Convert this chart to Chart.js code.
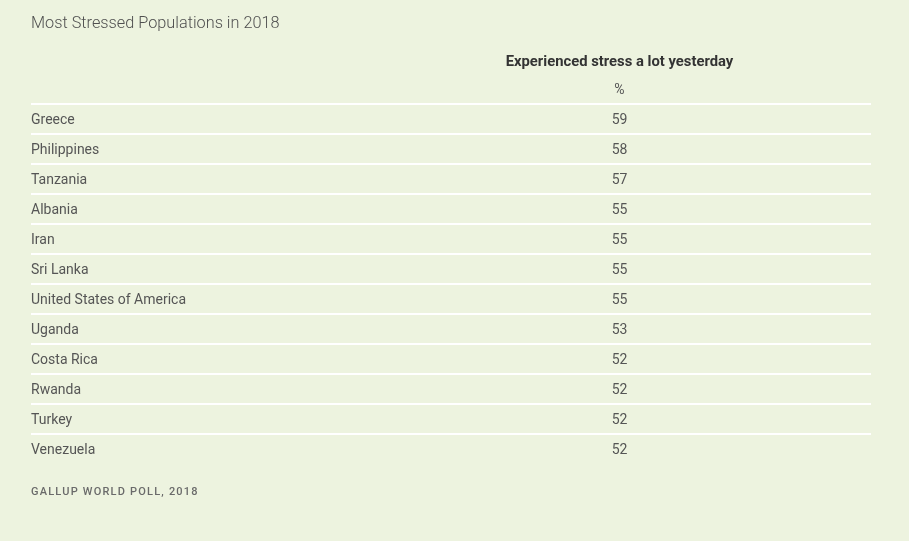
<!DOCTYPE html>
<html>
<head>
<meta charset="utf-8">
<title>Most Stressed Populations in 2018</title>
<script src="https://cdn.jsdelivr.net/npm/chart.js@4.4.1/dist/chart.umd.min.js"></script>
<style>
  html, body { margin: 0; padding: 0; background: #EDF3DF; }
  #wrap { position: relative; width: 909px; height: 541px; }
</style>
</head>
<body>
<div id="wrap"><canvas id="c" aria-label="Most Stressed Populations in 2018 — Experienced stress a lot yesterday, %" role="img"></canvas></div>
<script>
const titleText = "Most Stressed Populations in 2018";
const columnHeader = "Experienced stress a lot yesterday";
const unitLabel = "%";
const sourceText = "GALLUP WORLD POLL, 2018";
const countries = ["Greece", "Philippines", "Tanzania", "Albania", "Iran", "Sri Lanka",
  "United States of America", "Uganda", "Costa Rica", "Rwanda", "Turkey", "Venezuela"];
const stressValues = [59, 58, 57, 55, 55, 55, 55, 53, 52, 52, 52, 52];

const FONT = "Roboto, 'Open Sans', sans-serif";
const valueColumnX = 619.5;

const tablePlugin = {
  id: 'tableText',
  afterDraw(chart) {
    const ctx = chart.ctx;
    const meta = chart.getDatasetMeta(0);
    ctx.save();
    // values column
    ctx.font = "400 14px " + FONT;
    ctx.fillStyle = "#555555";
    ctx.textAlign = "center";
    ctx.textBaseline = "middle";
    meta.data.forEach((bar, i) => {
      ctx.fillText(String(stressValues[i]), valueColumnX, bar.y + 1);
    });
    // column header
    ctx.textBaseline = "alphabetic";
    ctx.font = "700 14.8px " + FONT;
    ctx.fillStyle = "#333333";
    ctx.fillText(columnHeader, valueColumnX, 66);
    ctx.font = "400 14px " + FONT;
    ctx.fillStyle = "#555555";
    ctx.fillText(unitLabel, valueColumnX, 94);
    // title
    ctx.textAlign = "left";
    ctx.font = "300 16.3px " + FONT;
    ctx.fillStyle = "#505050";
    ctx.fillText(titleText, 31, 28);
    // source
    ctx.font = "500 11px " + FONT;
    ctx.fillStyle = "#6a6a6a";
    if ('letterSpacing' in ctx) ctx.letterSpacing = "1.2px";
    ctx.fillText(sourceText, 31, 495);
    ctx.restore();
  }
};

new Chart(document.getElementById('c'), {
  type: 'bar',
  data: {
    labels: countries,
    datasets: [{
      label: columnHeader,
      data: stressValues,
      backgroundColor: 'rgba(0,0,0,0)',
      borderWidth: 0
    }]
  },
  options: {
    indexAxis: 'y',
    responsive: true,
    maintainAspectRatio: false,
    animation: false,
    events: [],
    layout: { padding: { left: 31, right: 38, top: 104, bottom: 77 } },
    scales: {
      x: { display: false, min: 0, max: 100 },
      y: {
        type: 'category',
        offset: true,
        border: { display: false },
        grid: {
          offset: true,
          drawTicks: false,
          lineWidth: 2,
          color: c => c.type === 'tick' ? '#ffffff' : 'rgba(0,0,0,0)'
        },
        ticks: {
          mirror: true,
          padding: 0,
          labelOffset: 1,
          color: '#555555',
          font: { family: FONT, size: 14, weight: '400' }
        },
        afterFit: s => { s.width = 0; }
      }
    },
    plugins: {
      legend: { display: false },
      tooltip: { enabled: false },
      title: { display: false }
    }
  },
  plugins: [tablePlugin]
});
</script>
</body>
</html>
